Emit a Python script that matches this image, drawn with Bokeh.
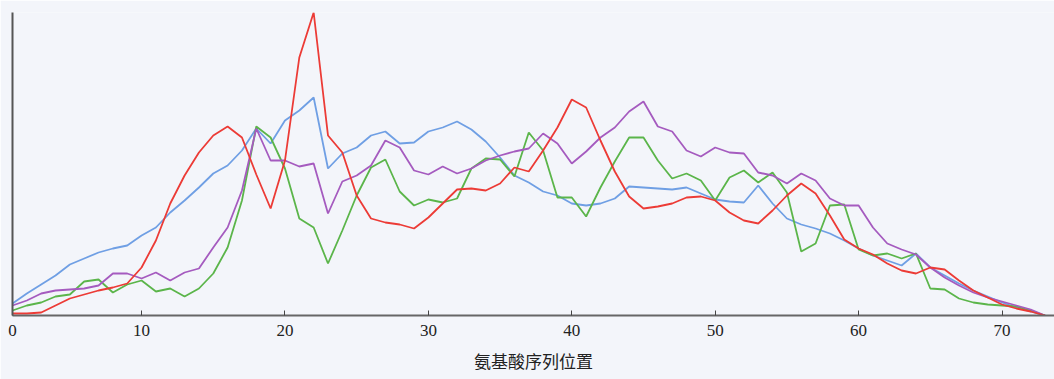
from bokeh.plotting import figure
from bokeh.models import FixedTicker, Range1d
from bokeh.embed import file_html
from bokeh.resources import INLINE

positions = list(range(1, 74))

red = [2, 2, 3, 10, 17, 21, 25, 28, 32, 48, 75, 112, 140, 163, 180, 189, 178, 141, 107, 155,
       258, 303, 180, 163, 120, 97, 93, 91, 87, 98, 112, 126, 127, 125, 132, 148, 144, 165, 188, 216,
       208, 175, 144, 119, 107, 109, 112, 118, 119, 115, 103, 95, 92, 105, 120, 132, 122, 100, 76, 67,
       61, 52, 45, 42, 48, 46, 35, 25, 18, 11, 7, 4, 0]
blue = [12, 22, 31, 40, 51, 57, 63, 67, 70, 80, 88, 103, 115, 128, 142, 150, 165, 187, 172, 195,
        205, 218, 147, 162, 168, 180, 184, 172, 173, 184, 188, 194, 186, 174, 158, 140, 133, 124, 120, 112,
        110, 112, 117, 129, 128, 127, 126, 128, 122, 116, 114, 113, 130, 112, 97, 91, 87, 82, 75, 67,
        60, 55, 50, 62, 48, 40, 32, 25, 19, 13, 8, 4, 0]
green = [5, 10, 13, 19, 21, 34, 36, 23, 31, 35, 24, 27, 19, 27, 42, 68, 115, 189, 178, 147,
         97, 88, 52, 85, 120, 148, 156, 124, 110, 116, 113, 117, 147, 157, 156, 139, 183, 165, 118, 118,
         99, 128, 154, 178, 178, 155, 137, 142, 135, 115, 138, 145, 133, 143, 123, 64, 72, 110, 111, 66,
         60, 62, 57, 62, 27, 26, 17, 13, 11, 10, 9, 5, 0]
purple = [10, 15, 22, 25, 26, 27, 30, 42, 42, 37, 43, 35, 43, 47, 68, 88, 125, 187, 155, 155,
          149, 152, 102, 134, 140, 150, 175, 168, 145, 141, 149, 142, 147, 155, 160, 164, 167, 182, 172, 152,
          164, 178, 188, 204, 214, 189, 184, 165, 159, 168, 163, 162, 143, 140, 132, 142, 135, 117, 110, 110,
          88, 72, 66, 61, 48, 38, 30, 23, 18, 14, 10, 6, 0]

tick_positions = [1, 10, 20, 30, 40, 50, 60, 70]
tick_labels = {1: "0", 10: "10", 20: "20", 30: "30", 40: "40", 50: "50", 60: "60", 70: "70"}
x_title = "氨基酸序列位置"

series = [
    (blue, "#6f9fe4"),
    (green, "#5bb54a"),
    (purple, "#a55bbf"),
    (red, "#ec3b36"),
]

p = figure(width=1054, height=379, output_backend="svg", toolbar_location=None,
           x_range=Range1d(1, 73.66), y_range=Range1d(0, 303),
           min_border_left=12, min_border_right=0, min_border_top=12, min_border_bottom=64)
p.background_fill_color = "#f3f5fa"
p.border_fill_color = "#f3f5fa"
p.outline_line_color = None
p.grid.visible = False

for ys, col in series:
    p.line(positions, ys, line_color=col, line_width=1.8)

p.xaxis.ticker = FixedTicker(ticks=tick_positions)
p.xaxis.major_label_overrides = tick_labels
p.xaxis.axis_line_color = "#666666"
p.xaxis.axis_line_width = 2
p.xaxis.major_tick_in = 5
p.xaxis.major_tick_out = 0
p.xaxis.major_tick_line_color = "#444444"
p.xaxis.minor_tick_line_color = None
p.xaxis.major_label_text_font = "Liberation Serif"
p.xaxis.major_label_text_font_size = "17px"
p.xaxis.major_label_text_color = "#222222"
p.xaxis.major_label_standoff = 9
p.xaxis.axis_label = x_title
p.xaxis.axis_label_text_font = "Noto Sans CJK SC"
p.xaxis.axis_label_text_font_style = "normal"
p.xaxis.axis_label_text_font_size = "17px"
p.xaxis.axis_label_text_color = "#222222"
p.xaxis.axis_label_standoff = 9

p.yaxis.ticker = FixedTicker(ticks=[])
p.yaxis.major_label_text_font_size = "0px"
p.yaxis.axis_line_color = "#555555"
p.yaxis.axis_line_width = 2
p.yaxis.major_tick_line_color = None
p.yaxis.minor_tick_line_color = None

open("out.html", "w").write(file_html(p, INLINE))
